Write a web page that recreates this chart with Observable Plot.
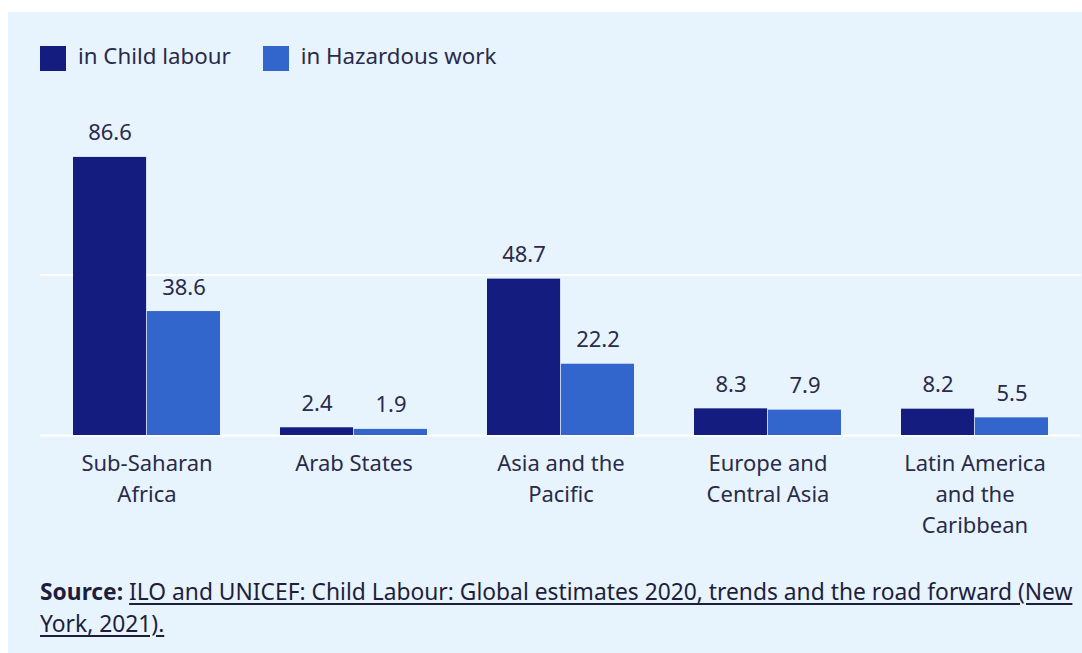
<!DOCTYPE html>
<html>
<head>
<meta charset="utf-8">
<script src="https://cdn.jsdelivr.net/npm/d3@7"></script>
<script src="https://cdn.jsdelivr.net/npm/@observablehq/plot@0.6"></script>
<style>
  html, body { margin: 0; padding: 0; background: #ffffff; }
  body { width: 1082px; height: 653px; overflow: hidden; font-family: "Noto Sans", "Open Sans", sans-serif; color: #2a2a4a; }
  #panel { position: absolute; left: 8px; top: 12px; width: 1074px; height: 641px; background: #e8f4fd; }
  #legend { position: absolute; left: 32px; top: 31px; display: flex; align-items: center; font-size: 22.3px; color: #2a2a4a; }
  .sw { display: inline-block; width: 26px; height: 25px; margin-right: 12px; }
  .lab { position: relative; top: -3px; }
  .item { display: flex; align-items: center; margin-right: 32px; }
  #chart { position: absolute; left: 0; top: 78px; }
  #source { position: absolute; left: 32px; top: 564px; width: 1040px; font-size: 22.8px; line-height: 32px; color: #1e1e3c; white-space: nowrap; }
  #source a { color: #1e1e3c; text-decoration: underline; text-underline-offset: 3px; }
</style>
</head>
<body>
<div id="panel">
  <div id="legend"></div>
  <div id="chart"></div>
  <div id="source"><div><b>Source:</b> <a>ILO and UNICEF: Child Labour: Global estimates 2020, trends and the road forward (New</a></div><div><a>York, 2021).</a></div></div>
</div>
<script>
const regions = ["Sub-Saharan Africa", "Arab States", "Asia and the Pacific", "Europe and Central Asia", "Latin America and the Caribbean"];
const regionLabels = ["Sub-Saharan\nAfrica", "Arab States", "Asia and the\nPacific", "Europe and\nCentral Asia", "Latin America\nand the\nCaribbean"];
const seriesNames = ["in Child labour", "in Hazardous work"];
const childLabour = [86.6, 2.4, 48.7, 8.3, 8.2];
const hazardousWork = [38.6, 1.9, 22.2, 7.9, 5.5];
const colors = ["#151c80", "#3366cc"];

const labelMap = new Map(regions.map((r, i) => [r, regionLabels[i]]));
const child = regions.map((r, i) => ({region: r, value: childLabour[i], series: seriesNames[0]}));
const hazard = regions.map((r, i) => ({region: r, value: hazardousWork[i], series: seriesNames[1]}));

// legend
const legend = document.getElementById("legend");
seriesNames.forEach((s, i) => {
  const it = document.createElement("div");
  it.className = "item";
  it.innerHTML = `<span class="sw" style="background:${colors[i]}"></span><span class="lab">${s}</span>`;
  legend.appendChild(it);
});

const half = 73.9;
const chart = Plot.plot({
  width: 1074,
  height: 470,
  marginLeft: 32,
  marginRight: 1,
  marginTop: 56,
  marginBottom: 125,
  style: {background: "transparent", fontFamily: "Noto Sans, Open Sans, sans-serif", color: "#2a2a4a"},
  x: {domain: regions, paddingInner: 0.29, paddingOuter: 0.15, label: null},
  y: {domain: [0, 90], axis: null},
  marks: [
    Plot.ruleY([0, 50], {stroke: "#ffffff", strokeWidth: 2}),
    Plot.barY(child, {x: "region", y: "value", fill: colors[0], insetRight: half}),
    Plot.barY(hazard, {x: "region", y: "value", fill: colors[1], insetLeft: half}),
    Plot.text(child, {x: "region", y: "value", text: d => d.value.toFixed(1), dx: -37, dy: -24, fontSize: 22, fill: "#2a2a4a"}),
    Plot.text(hazard, {x: "region", y: "value", text: d => d.value.toFixed(1), dx: 37, dy: -24, fontSize: 22, fill: "#2a2a4a"}),
    Plot.axisX({tickSize: 0, tickPadding: 13, fontSize: 22, lineHeight: 1.42, tickFormat: d => labelMap.get(d), fill: "#2a2a4a", label: null})
  ]
});
document.getElementById("chart").appendChild(chart);
</script>
</body>
</html>
